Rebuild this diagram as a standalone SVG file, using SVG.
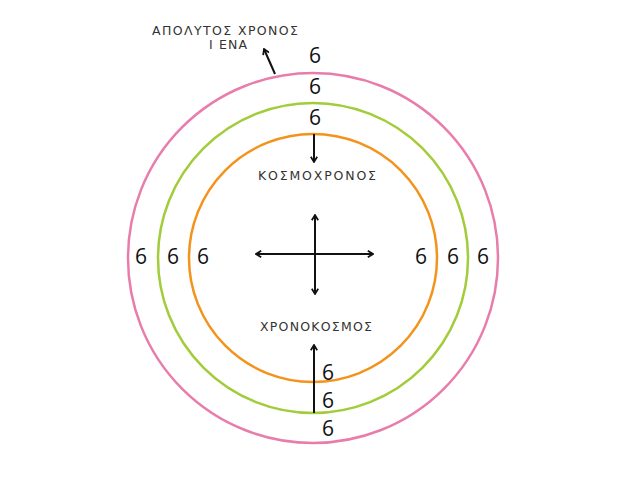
<svg xmlns="http://www.w3.org/2000/svg" width="640" height="478" viewBox="0 0 640 478">
<defs>
<style>
.lbl{font-family:"DejaVu Sans","Liberation Sans",sans-serif;font-size:12.5px;fill:#333;text-anchor:middle}
.six{font-family:"Open Sans","DejaVu Sans",sans-serif;font-size:21px;fill:#111;text-anchor:middle}
.ring{fill:none;stroke-width:2.5}
.ln{stroke:#111;stroke-width:2;fill:none}
</style>
<marker id="ah" viewBox="0 0 10 10" refX="8.5" refY="5" markerWidth="8" markerHeight="8" orient="auto-start-reverse" markerUnits="userSpaceOnUse">
<path d="M2,1 L8.5,5 L2,9" fill="none" stroke="#111" stroke-width="2.2"/>
</marker>
</defs>
<rect width="640" height="478" fill="#fff"/>
<g id="ring-pink"><circle class="ring" cx="313" cy="258" r="185" stroke="#e87dac"/></g>
<g id="ring-green"><circle class="ring" cx="313" cy="258" r="155" stroke="#a2cc3a"/></g>
<g id="ring-orange"><circle class="ring" cx="313" cy="258" r="124" stroke="#f3931b"/></g>
<g id="title">
<text class="lbl" x="225" y="35" textLength="146" lengthAdjust="spacing">ΑΠΟΛΥΤΟΣ ΧΡΟΝΟΣ</text>
<text class="lbl" x="228" y="49" textLength="38" lengthAdjust="spacing">Ι ΕΝΑ</text>
</g>
<g id="kosmoxronos"><text class="lbl" x="317" y="180" textLength="118" lengthAdjust="spacing">ΚΟΣΜΟΧΡΟΝΟΣ</text></g>
<g id="xronokosmos"><text class="lbl" x="316" y="331" textLength="112" lengthAdjust="spacing">ΧΡΟΝΟΚΟΣΜΟΣ</text></g>
<g id="sixes">
<text class="six" x="315" y="63">6</text>
<text class="six" x="315" y="94">6</text>
<text class="six" x="315" y="125">6</text>
<text class="six" x="328" y="380">6</text>
<text class="six" x="328" y="408">6</text>
<text class="six" x="328" y="436">6</text>
<text class="six" x="141" y="264">6</text>
<text class="six" x="173" y="264">6</text>
<text class="six" x="203" y="264">6</text>
<text class="six" x="421" y="264">6</text>
<text class="six" x="453" y="264">6</text>
<text class="six" x="483" y="264">6</text>
</g>
<g id="connectors">
<line class="ln" x1="275" y1="74" x2="264" y2="49" marker-end="url(#ah)"/>
<line class="ln" x1="314" y1="134" x2="314" y2="162" marker-end="url(#ah)"/>
<line class="ln" x1="314" y1="413" x2="314" y2="345" marker-end="url(#ah)"/>
<line class="ln" x1="256" y1="254" x2="373" y2="254" marker-start="url(#ah)" marker-end="url(#ah)"/>
<line class="ln" x1="315" y1="215" x2="315" y2="294" marker-start="url(#ah)" marker-end="url(#ah)"/>
</g>
</svg>
